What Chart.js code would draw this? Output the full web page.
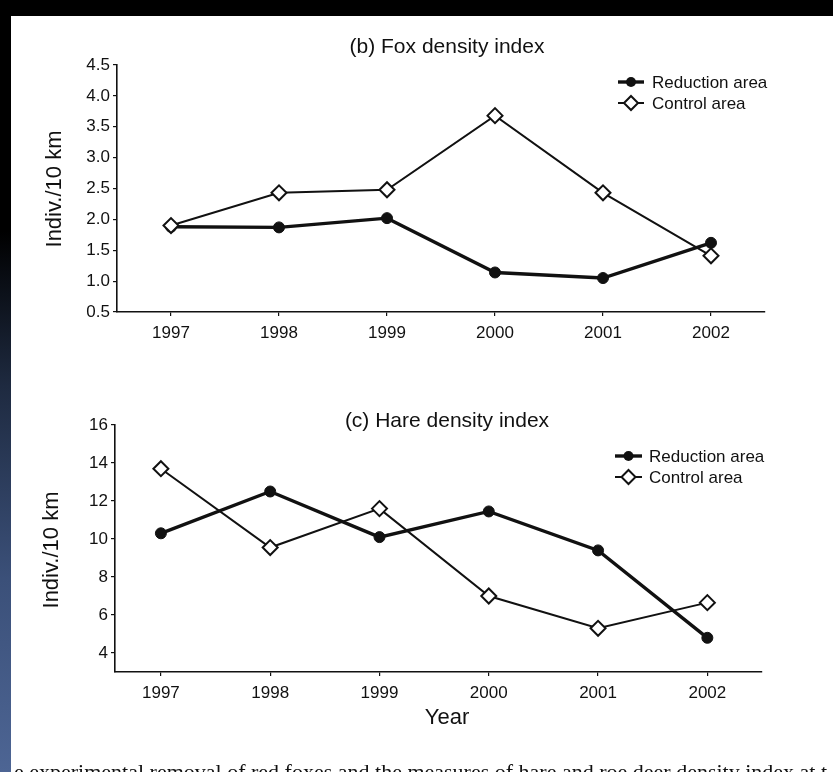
<!DOCTYPE html>
<html>
<head>
<meta charset="utf-8">
<script src="https://cdn.jsdelivr.net/npm/chart.js@4/dist/chart.umd.min.js"></script>
<style>
  html, body { margin: 0; padding: 0; width: 833px; height: 772px; overflow: hidden; background: #000; }
  #strip { position: absolute; left: 0; top: 0; width: 11px; height: 772px;
           background: linear-gradient(to bottom, #000 0%, #000 30%, #1e2a40 50%, #3b5079 75%, #4d6594 100%); }
  #panel { position: absolute; left: 11px; top: 16px; width: 822px; height: 756px; background: #fff; overflow: hidden; }
  canvas { position: absolute; left: 0; }
  #c1 { top: 0; }
  #c2 { top: 370px; }
  #caption { position: absolute; left: 14px; top: 759px; white-space: nowrap;
             font-family: "Liberation Serif", serif; font-size: 22px; color: #111; }
</style>
</head>
<body>
<div id="strip"></div>
<div id="panel"></div>
<canvas id="c1" width="833" height="370"></canvas>
<canvas id="c2" width="833" height="402"></canvas>
<div id="caption">e experimental removal of red foxes and the measures of hare and roe deer density index at t</div>
<script>
// ---- data ----
const years = [1997, 1998, 1999, 2000, 2001, 2002];
const foxReduction = [1.88, 1.87, 2.02, 1.14, 1.05, 1.62];
const foxControl   = [1.90, 2.43, 2.48, 3.68, 2.43, 1.41];
const hareReduction = [10.3, 12.5, 10.1, 11.45, 9.4, 4.8];
const hareControl   = [13.7, 9.55, 11.6, 7.0, 5.3, 6.65];
const foxTicks  = [0.5, 1.0, 1.5, 2.0, 2.5, 3.0, 3.5, 4.0, 4.5];
const hareTicks = [4, 6, 8, 10, 12, 14, 16];
const seriesLabels = ['Reduction area', 'Control area'];
const foxTitle = '(b) Fox density index';
const hareTitle = '(c) Hare density index';
const yTitle = 'Indiv./10 km';
const xTitle = 'Year';

const INK = '#111';
const FONT = '"Liberation Sans", Arial, sans-serif';

function pts(vals) { return years.map((y, i) => ({ x: y, y: vals[i] })); }

function makeDatasets(red, ctl) {
  return [
    { label: seriesLabels[0], data: pts(red), borderColor: INK, borderWidth: 3.4,
      pointStyle: 'circle', pointRadius: 5.5, pointBackgroundColor: INK, pointBorderColor: INK,
      pointBorderWidth: 1, order: 2 },
    { label: seriesLabels[1], data: pts(ctl), borderColor: INK, borderWidth: 2,
      pointStyle: 'rectRot', pointRadius: 7.5, pointBackgroundColor: '#fff', pointBorderColor: INK,
      pointBorderWidth: 2, order: 1 }
  ];
}

// custom text + legend plugin
const decor = {
  id: 'decor',
  afterDraw(chart, args, o) {
    const ctx = chart.ctx;
    ctx.save();
    ctx.fillStyle = INK;
    ctx.textBaseline = 'middle';
    // title
    ctx.font = '21px ' + FONT;
    ctx.textAlign = 'center';
    ctx.fillText(o.title, o.titleX, o.titleY);
    // y title
    ctx.save();
    ctx.translate(o.yTitleX, o.yTitleY);
    ctx.rotate(-Math.PI / 2);
    ctx.font = '22px ' + FONT;
    ctx.fillText(yTitle, 0, 0);
    ctx.restore();
    // x title
    if (o.xTitleY) {
      ctx.font = '22px ' + FONT;
      ctx.fillText(xTitle, o.xTitleX, o.xTitleY);
    }
    // legend
    ctx.font = '17px ' + FONT;
    ctx.textAlign = 'left';
    chart.data.datasets.forEach((ds, i) => {
      const y = o.legY + i * o.legGap;
      ctx.strokeStyle = INK;
      ctx.lineWidth = ds.borderWidth;
      ctx.beginPath(); ctx.moveTo(o.legX1, y); ctx.lineTo(o.legX2, y); ctx.stroke();
      const cx = (o.legX1 + o.legX2) / 2;
      if (ds.pointStyle === 'circle') {
        ctx.fillStyle = INK;
        ctx.beginPath(); ctx.arc(cx, y, 5, 0, Math.PI * 2); ctx.fill();
      } else {
        const r = 7;
        ctx.fillStyle = '#fff'; ctx.lineWidth = 2;
        ctx.beginPath(); ctx.moveTo(cx, y - r); ctx.lineTo(cx + r, y); ctx.lineTo(cx, y + r); ctx.lineTo(cx - r, y); ctx.closePath();
        ctx.fill(); ctx.stroke();
      }
      ctx.fillStyle = INK;
      ctx.fillText(ds.label, o.legTextX, y + 1);
    });
    ctx.restore();
  }
};

function makeChart(id, red, ctl, yTicks, yMin, yMax, xMin, xMax, fmt, layout, xAxisH, yAxisW, decorOpts) {
  return new Chart(document.getElementById(id), {
    type: 'line',
    data: { datasets: makeDatasets(red, ctl) },
    plugins: [decor],
    options: {
      responsive: false,
      animation: false,
      layout: { padding: layout },
      plugins: { legend: { display: false }, tooltip: { enabled: false }, title: { display: false }, decor: decorOpts },
      scales: {
        x: {
          type: 'linear', min: xMin, max: xMax,
          afterBuildTicks: s => { s.ticks = years.map(v => ({ value: v })); },
          afterFit: s => { s.height = xAxisH; },
          grid: { drawOnChartArea: false, drawTicks: true, tickLength: 4, color: INK, lineWidth: 1.2 },
          border: { display: true, color: INK, width: 1.6 },
          ticks: { color: INK, font: { family: FONT, size: 17 }, padding: 7, maxRotation: 0, autoSkip: false,
                   callback: v => String(v) }
        },
        y: {
          type: 'linear', min: yMin, max: yMax,
          afterBuildTicks: s => { s.ticks = yTicks.map(v => ({ value: v })); },
          afterFit: s => { s.width = yAxisW; },
          grid: { drawOnChartArea: false, drawTicks: true, tickLength: 4, color: INK, lineWidth: 1.2 },
          border: { display: true, color: INK, width: 1.6 },
          ticks: { color: INK, font: { family: FONT, size: 17 }, padding: 3, autoSkip: false, callback: fmt }
        }
      }
    }
  });
}

// top chart: plot area x 117..765, y 65..312 (canvas at page y 0)
makeChart('c1', foxReduction, foxControl, foxTicks, 0.5, 4.5, 1996.5, 2002.5,
  v => Number(v).toFixed(1),
  { left: 0, top: 65, right: 68, bottom: 0 }, 58, 117,
  { title: foxTitle, titleX: 447, titleY: 47, yTitleX: 55, yTitleY: 189,
    legX1: 618, legX2: 644, legTextX: 652, legY: 82, legGap: 21 });

// bottom chart: plot area x 115..762, y 425..672 (canvas at page y 370)
makeChart('c2', hareReduction, hareControl, hareTicks, 3, 16, 1996.58, 2002.5,
  v => String(v),
  { left: 0, top: 55, right: 71, bottom: 0 }, 100, 115,
  { title: hareTitle, titleX: 447, titleY: 51, yTitleX: 52, yTitleY: 180,
    xTitleX: 447, xTitleY: 348,
    legX1: 615, legX2: 642, legTextX: 649, legY: 86, legGap: 21 });
</script>
</body>
</html>
